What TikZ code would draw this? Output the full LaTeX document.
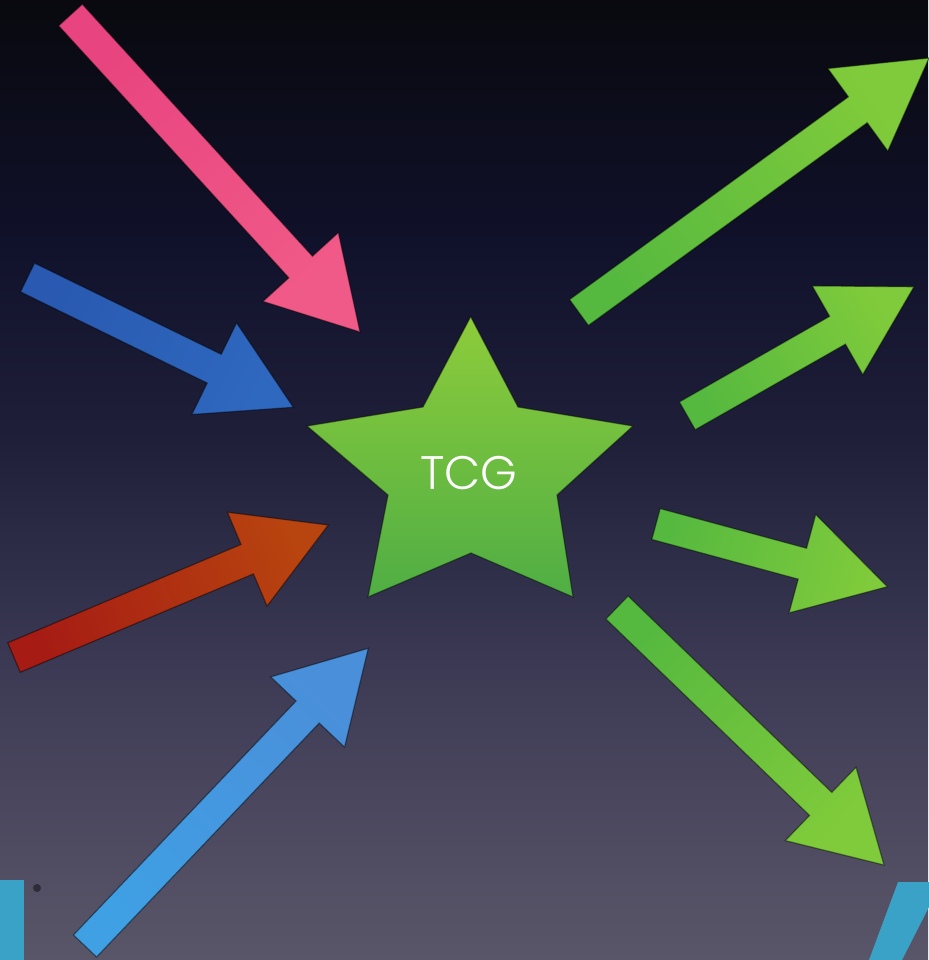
\documentclass[tikz,border=0pt]{standalone}
\usepackage{fontspec}
\setmainfont{Poppins}
\newfontfamily\tcgfont{Poppins Light}
\usetikzlibrary{calc}
\definecolor{bgA}{HTML}{5A5669}
\definecolor{bgB}{HTML}{403D57}
\definecolor{bgC}{HTML}{2B2B46}
\definecolor{bgD}{HTML}{1F1F3A}
\definecolor{bgE}{HTML}{10112A}
\definecolor{bgF}{HTML}{09090F}
\definecolor{letterc}{HTML}{3AA2C6}
\definecolor{dotc}{HTML}{2E2C3A}
\definecolor{starTop}{HTML}{8DCC3B}
\definecolor{starBot}{HTML}{4FAE44}
\definecolor{greenTail}{HTML}{56B93F}
\definecolor{greenTip}{HTML}{80CB3B}
\definecolor{pinkTail}{HTML}{E8447F}
\definecolor{pinkTip}{HTML}{F05A88}
\definecolor{dblueTail}{HTML}{2959B0}
\definecolor{dblueTip}{HTML}{2F68BF}
\definecolor{redTail}{HTML}{A61C14}
\definecolor{redTip}{HTML}{B8440F}
\definecolor{lblueTail}{HTML}{3FA0E4}
\definecolor{lblueTip}{HTML}{4A8FDA}
\pgfdeclareverticalshading{bgshade}{100bp}{color(0bp)=(bgA); color(25bp)=(bgA); color(38.5bp)=(bgB); color(47bp)=(bgC); color(52bp)=(bgD); color(62.5bp)=(bgE); color(75bp)=(bgF); color(100bp)=(bgF)}
\newcommand\blockarrow[3]{%
  \coordinate (hb) at ($(#3)!88pt!(#2)$);
  \shadedraw[arrowedge,#1] ($(#2)!16pt!90:(#3)$) -- ($(hb)!16pt!90:(#3)$) -- ($(hb)!51pt!90:(#3)$) -- (#3)
    -- ($(hb)!51pt!-90:(#3)$) -- ($(hb)!16pt!-90:(#3)$) -- ($(#2)!16pt!-90:(#3)$) -- cycle;
}
\begin{document}
\begin{tikzpicture}[x=1pt,y=-1pt,
  arrowedge/.style={draw=black, draw opacity=0.45, line width=1.2pt, line join=miter},
  greenarrow/.style={left color=greenTail, right color=greenTip}]
\useasboundingbox (0,0) rectangle (928,960);
\shade[shading=bgshade] (0,0) rectangle (928,960);
% background letters
\fill[letterc] (0,880) rectangle (24,960);
\fill[dotc] (37,888) circle (4);
\fill[letterc] (869,960) -- (898,882) -- (930,882) -- (930,905) -- (902,960) -- cycle;
% star
\shadedraw[top color=starTop, bottom color=starBot, arrowedge]
  (470.7,316.7) -- (518,407) -- (633,426) -- (557,495) -- (573,597) -- (471,553)
  -- (368,597) -- (388,495) -- (307,426) -- (423,407) -- cycle;
\node[text=white, font=\tcgfont\fontsize{47}{47}\selectfont, inner sep=0pt] (tcg) at (469,473) {TCG};
% arrow end points
\coordinate (pinkT) at (70.5,15);   \coordinate (pinkP) at (360,332);
\coordinate (dblT) at (27.5,277.5); \coordinate (dblP) at (293.3,407.3);
\coordinate (redT) at (14,657.5);   \coordinate (redP) at (328.3,525);
\coordinate (lblT) at (85,946);     \coordinate (lblP) at (368.3,648.3);
\coordinate (gAT) at (579,312.5);   \coordinate (gAP) at (929,58);
\coordinate (gBT) at (687.3,415.8); \coordinate (gBP) at (914,286.7);
\coordinate (gCT) at (656,524);     \coordinate (gCP) at (887.3,586.7);
\coordinate (gDT) at (617,607.5);   \coordinate (gDP) at (884,865);
% incoming arrows
\blockarrow{left color=pinkTail, right color=pinkTip, shading angle=42.5}{pinkT}{pinkP}
\blockarrow{left color=dblueTail, right color=dblueTip, shading angle=64}{dblT}{dblP}
\blockarrow{left color=redTail, right color=redTip, shading angle=112.9}{redT}{redP}
\blockarrow{left color=lblueTail, right color=lblueTip, shading angle=136.5}{lblT}{lblP}
% outgoing arrows
\blockarrow{greenarrow, shading angle=126.1}{gAT}{gAP}
\blockarrow{greenarrow, shading angle=119.6}{gBT}{gBP}
\blockarrow{greenarrow, shading angle=74.8}{gCT}{gCP}
\blockarrow{greenarrow, shading angle=46}{gDT}{gDP}
\end{tikzpicture}
\end{document}
